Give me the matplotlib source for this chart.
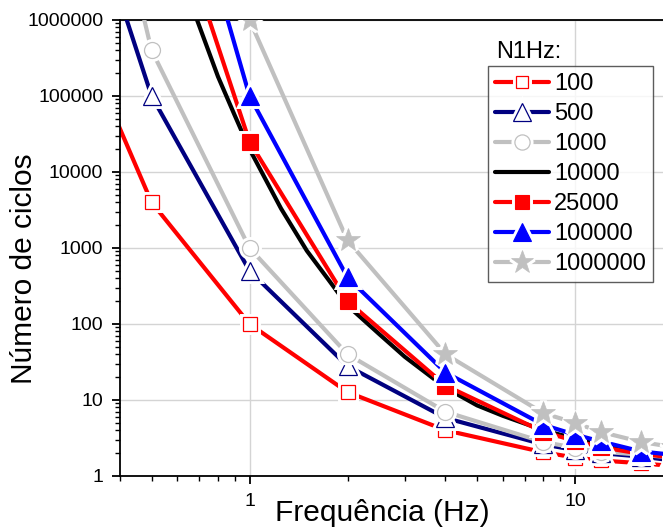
import matplotlib
matplotlib.use("Agg")
import matplotlib.pyplot as plt
from matplotlib.legend_handler import HandlerTuple
from matplotlib.ticker import LogLocator, NullFormatter, FuncFormatter

plt.rcParams["font.family"] = ["Liberation Sans", "DejaVu Sans"]

# frequency points (Hz)
freq_a = [0.25, 0.5, 1, 2, 4, 8, 10, 12, 16, 20]
freq_b = [0.5, 1, 2, 4, 8, 10, 12, 16, 20]
freq_black = [0.6, 0.69, 0.8, 0.9, 1, 1.25, 1.5, 1.75, 2, 2.5, 3, 4, 5, 6, 8, 10, 12, 16, 20]

# number of cycles per N1Hz
n_100 = [4e6, 4000, 100, 12.7, 4.0, 2.05, 1.75, 1.6, 1.47, 1.35]
n_500 = [9e8, 1e5, 500, 28, 5.8, 2.6, 2.2, 2.0, 1.8, 1.6]
n_1000 = [1e11, 4e5, 1000, 40, 7.0, 2.8, 2.35, 2.1, 1.9, 1.75]
n_10000 = [5e6, 1e6, 1.8e5, 5.6e4, 2e4, 3300, 920, 380, 175, 74, 37, 14.5,
           8.5, 6.2, 4.0, 3.1, 2.6, 2.05, 1.75]
n_25000 = [2e8, 25000, 200, 15.5, 3.8, 2.9, 2.4, 1.95, 1.75]
n_100000 = [3e9, 1e5, 410, 23, 4.7, 3.5, 2.85, 2.1, 1.9]
n_1000000 = [1e10, 1e6, 1260, 40, 6.7, 5.0, 3.8, 2.8, 2.4]

labels = ["100", "500", "1000", "10000", "25000", "100000", "1000000"]

RED = "#ff0000"
NAVY = "#000080"
GRAY = "#c0c0c0"
BLUE = "#0000ff"

fig = plt.figure(figsize=(6.63, 5.28), dpi=100)
ax = fig.add_axes([120 / 663, 52 / 528, 553 / 663, 456 / 528])
ax.set_xscale("log")
ax.set_yscale("log")
ax.set_xlim(0.4, 20)
ax.set_ylim(1, 1e6)

ax.grid(True, which="major", color="#d4d4d4", linewidth=1.0, zorder=0)
ax.set_axisbelow(True)

series = [
    (freq_a, n_100, RED, "s", "white", 9.5, 0.9),
    (freq_a, n_500, NAVY, "^", "white", 13, 0.9),
    (freq_a, n_1000, GRAY, "o", "white", 11.5, 0.9),
    (freq_black, n_10000, "black", None, None, 0, 0),
    (freq_b, n_25000, RED, "s", RED, 11, 0.8),
    (freq_b, n_100000, BLUE, "^", BLUE, 13, 0.8),
    (freq_b, n_1000000, GRAY, "*", GRAY, 18, 0.5),
]

handles = []
for i, (fx, ny, col, mk, face, ms, mew) in enumerate(series):
    z = 2 + i
    line, = ax.plot(fx, ny, color=col, lw=3, solid_capstyle="round", zorder=z)
    if mk is None:
        handles.append(line)
        continue
    # white halo gives the gap between line and marker
    halo, = ax.plot(fx, ny, ls="none", marker=mk, ms=ms, mfc="white", mec="white",
                    mew=5, zorder=z + 0.1)
    mark, = ax.plot(fx, ny, ls="none", marker=mk, ms=ms, mfc=face, mec=col,
                    mew=mew, zorder=z + 0.2)
    handles.append((line, halo, mark))

# axes styling
for side in ["left", "bottom", "top"]:
    ax.spines[side].set_linewidth(1.3)
ax.spines["right"].set_visible(False)

ax.xaxis.set_major_locator(LogLocator(base=10, numticks=10))
ax.xaxis.set_minor_locator(LogLocator(base=10, subs=range(2, 10), numticks=20))
ax.yaxis.set_major_locator(LogLocator(base=10, numticks=10))
ax.yaxis.set_minor_locator(LogLocator(base=10, subs=range(2, 10), numticks=20))
ax.xaxis.set_major_formatter(FuncFormatter(lambda v, p: f"{v:g}"))
ax.yaxis.set_major_formatter(FuncFormatter(lambda v, p: f"{int(round(v))}"))
ax.xaxis.set_minor_formatter(NullFormatter())
ax.yaxis.set_minor_formatter(NullFormatter())
ax.tick_params(which="major", direction="out", length=6, width=1.3, labelsize=14, pad=6)
ax.tick_params(which="minor", direction="out", length=3.5, width=1.0)

ax.set_xlabel("Frequência (Hz)", fontsize=21.5)
ax.set_ylabel("Número de ciclos", fontsize=21.5)
ax.xaxis.set_label_coords(0.474, -0.05)
ax.yaxis.set_label_coords(-0.148, 0.454)

leg = ax.legend(handles, labels, loc="upper left",
                bbox_to_anchor=((488 - 120) / 553, (476 - 66) / 456),
                fontsize=17, handlelength=2.3, handletextpad=0.2, labelspacing=0.34,
                borderpad=0.3, borderaxespad=0, frameon=True, fancybox=False,
                markerscale=0.95, handler_map={tuple: HandlerTuple(ndivide=1)})
leg.get_frame().set_edgecolor("#333333")
leg.get_frame().set_linewidth(1.0)
leg.set_zorder(20)

fig.text(496 / 663, 1 - 58 / 528, "N1Hz:", fontsize=17, va="baseline", ha="left")

fig.savefig("out.png", dpi=100)
